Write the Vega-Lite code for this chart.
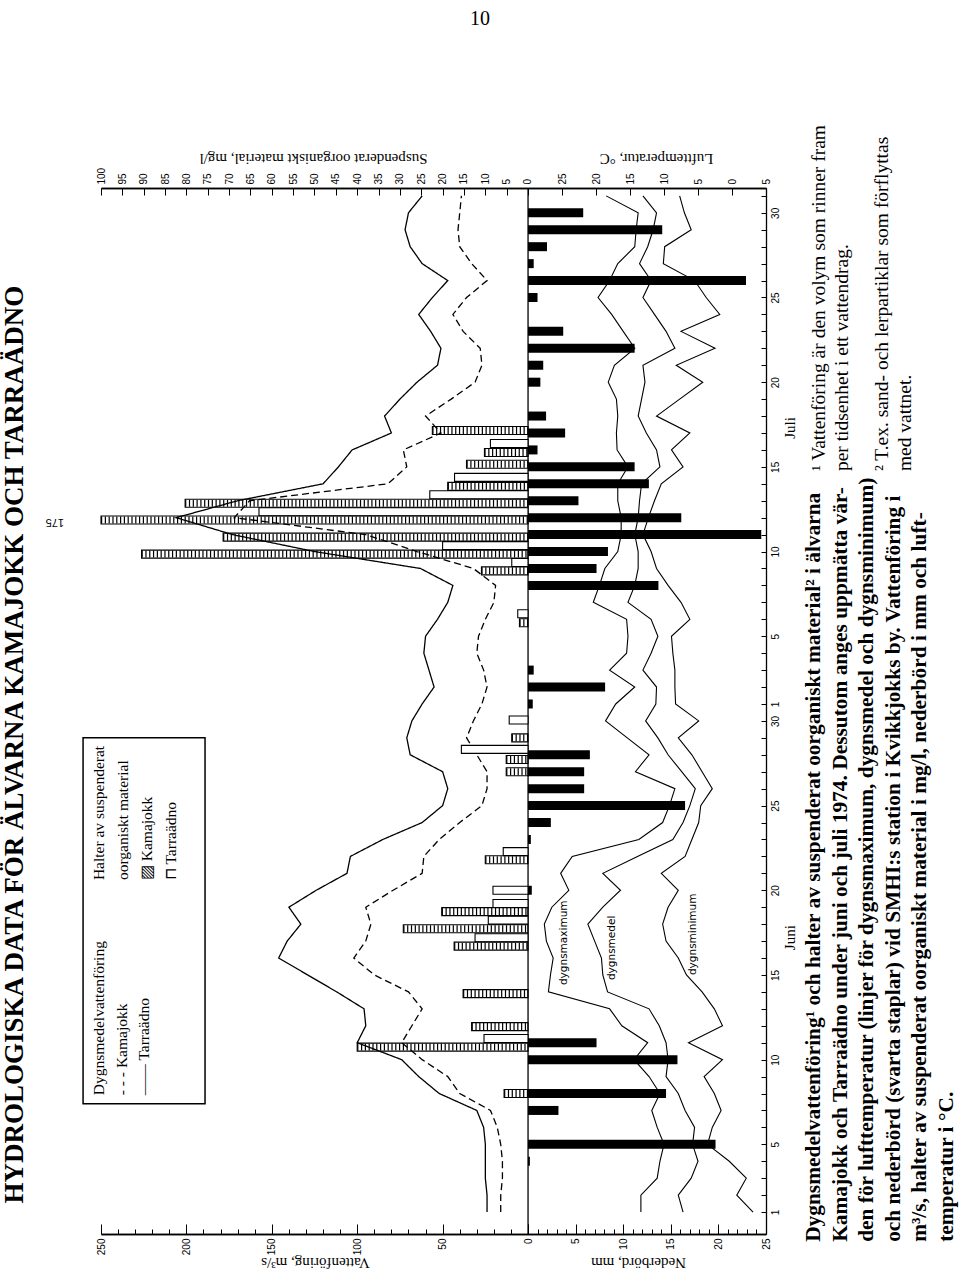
{
  "$schema": "https://vega.github.io/schema/vega-lite/v6.json",
  "width": 665,
  "height": 1046,
  "autosize": {"type": "none"},
  "padding": {"left": 101, "top": 188, "right": 194, "bottom": 36},
  "background": "white",
  "config": {
    "view": {"stroke": null},
    "axis": {"grid": false, "domainColor": "black", "domainWidth": 1.3, "tickColor": "black", "tickWidth": 1, "labelColor": "black", "labelFont": "Liberation Sans", "labelFontSize": 10, "labelOverlap": false, "labelFlush": false, "titleFont": "Liberation Serif", "titleFontSize": 15, "titleFontWeight": "normal", "titleColor": "black"}
  },
  "datasets": {
    "daily": [
      {"day":1,"kamajokk":16,"tarraadno":24,"tmax":13.4,"tmean":7.2,"tmin":-3.1},
      {"day":2,"kamajokk":16,"tarraadno":24,"tmax":13.4,"tmean":7.9,"tmin":-0.7},
      {"day":3,"kamajokk":15,"tarraadno":25,"tmax":11.0,"tmean":6.0,"tmin":-2.1},
      {"day":4,"kamajokk":15,"tarraadno":25,"tmax":10.6,"tmean":5.0,"tmin":0.4},
      {"day":5,"kamajokk":16,"tarraadno":25,"tmax":10.0,"tmean":5.8,"tmin":3.6},
      {"day":6,"kamajokk":18,"tarraadno":26,"tmax":11.0,"tmean":5.5,"tmin":2.9},
      {"day":7,"kamajokk":22,"tarraadno":30,"tmax":11.8,"tmean":6.9,"tmin":1.6},
      {"day":8,"kamajokk":40,"tarraadno":52,"tmax":10.6,"tmean":7.9,"tmin":2.6},
      {"day":9,"kamajokk":47,"tarraadno":64,"tmax":12.2,"tmean":9.7,"tmin":4.1},
      {"day":10,"kamajokk":62,"tarraadno":74,"tmax":14.4,"tmean":9.4,"tmin":1.4},
      {"day":11,"kamajokk":74,"tarraadno":100,"tmax":12.4,"tmean":9.7,"tmin":6.4},
      {"day":12,"kamajokk":68,"tarraadno":95,"tmax":16.2,"tmean":10.7,"tmin":1.4},
      {"day":13,"kamajokk":62,"tarraadno":96,"tmax":18.0,"tmean":12.2,"tmin":2.6},
      {"day":14,"kamajokk":70,"tarraadno":112,"tmax":27.0,"tmean":18.3,"tmin":4.4},
      {"day":15,"kamajokk":90,"tarraadno":129,"tmax":26.7,"tmean":19.0,"tmin":6.7},
      {"day":16,"kamajokk":102,"tarraadno":146,"tmax":26.3,"tmean":19.2,"tmin":7.9},
      {"day":17,"kamajokk":95,"tarraadno":141,"tmax":27.3,"tmean":20.2,"tmin":9.7},
      {"day":18,"kamajokk":92,"tarraadno":133,"tmax":27.6,"tmean":21.2,"tmin":10.2},
      {"day":19,"kamajokk":95,"tarraadno":140,"tmax":26.5,"tmean":19.0,"tmin":9.4},
      {"day":20,"kamajokk":79,"tarraadno":124,"tmax":24.0,"tmean":16.4,"tmin":7.9},
      {"day":21,"kamajokk":62,"tarraadno":106,"tmax":25.2,"tmean":19.0,"tmin":10.4},
      {"day":22,"kamajokk":61,"tarraadno":104,"tmax":23.5,"tmean":13.9,"tmin":6.9},
      {"day":23,"kamajokk":52,"tarraadno":85,"tmax":13.7,"tmean":8.7,"tmin":5.9},
      {"day":24,"kamajokk":40,"tarraadno":62,"tmax":10.2,"tmean":7.2,"tmin":4.9},
      {"day":25,"kamajokk":27,"tarraadno":50,"tmax":9.2,"tmean":6.2,"tmin":4.6},
      {"day":26,"kamajokk":24,"tarraadno":47,"tmax":8.4,"tmean":5.4,"tmin":2.9},
      {"day":27,"kamajokk":24,"tarraadno":50,"tmax":14.2,"tmean":7.4,"tmin":4.4},
      {"day":28,"kamajokk":30,"tarraadno":69,"tmax":12.2,"tmean":9.4,"tmin":5.9},
      {"day":29,"kamajokk":36,"tarraadno":71,"tmax":15.4,"tmean":10.9,"tmin":7.9},
      {"day":30,"kamajokk":32,"tarraadno":68,"tmax":18.6,"tmean":12.7,"tmin":4.9},
      {"day":31,"kamajokk":27,"tarraadno":62,"tmax":17.1,"tmean":11.2,"tmin":8.3},
      {"day":32,"kamajokk":24,"tarraadno":55,"tmax":14.3,"tmean":11.1,"tmin":8.4},
      {"day":33,"kamajokk":26,"tarraadno":58,"tmax":18.0,"tmean":13.1,"tmin":8.4},
      {"day":34,"kamajokk":30,"tarraadno":61,"tmax":15.5,"tmean":11.9,"tmin":8.7},
      {"day":35,"kamajokk":29,"tarraadno":60,"tmax":15.3,"tmean":10.9,"tmin":8.9},
      {"day":36,"kamajokk":25,"tarraadno":53,"tmax":15.5,"tmean":11.9,"tmin":6.2},
      {"day":37,"kamajokk":20,"tarraadno":47,"tmax":20.4,"tmean":15.3,"tmin":7.5},
      {"day":38,"kamajokk":19,"tarraadno":44,"tmax":19.5,"tmean":14.3,"tmin":9.4},
      {"day":39,"kamajokk":32,"tarraadno":63,"tmax":18.7,"tmean":13.8,"tmin":11.1},
      {"day":40,"kamajokk":65,"tarraadno":125,"tmax":16.8,"tmean":13.8,"tmin":11.9},
      {"day":41,"kamajokk":95,"tarraadno":173,"tmax":16.3,"tmean":14.3,"tmin":13.1},
      {"day":42,"kamajokk":172,"tarraadno":206,"tmax":16.3,"tmean":13.8,"tmin":12.3},
      {"day":43,"kamajokk":163,"tarraadno":170,"tmax":16.8,"tmean":13.6,"tmin":11.4},
      {"day":44,"kamajokk":82,"tarraadno":120,"tmax":16.8,"tmean":13.3,"tmin":10.4},
      {"day":45,"kamajokk":71,"tarraadno":111,"tmax":15.3,"tmean":10.6,"tmin":7.2},
      {"day":46,"kamajokk":73,"tarraadno":103,"tmax":16.9,"tmean":11.1,"tmin":8.9},
      {"day":47,"kamajokk":51,"tarraadno":80,"tmax":17.0,"tmean":12.6,"tmin":6.2},
      {"day":48,"kamajokk":60,"tarraadno":84,"tmax":16.8,"tmean":13.8,"tmin":11.1},
      {"day":49,"kamajokk":45,"tarraadno":75,"tmax":17.0,"tmean":13.3,"tmin":7.7},
      {"day":50,"kamajokk":31,"tarraadno":65,"tmax":18.2,"tmean":12.8,"tmin":4.3},
      {"day":51,"kamajokk":27,"tarraadno":53,"tmax":17.3,"tmean":13.1,"tmin":8.2},
      {"day":52,"kamajokk":28,"tarraadno":51,"tmax":14.3,"tmean":8.4,"tmin":2.5},
      {"day":53,"kamajokk":38,"tarraadno":57,"tmax":16.0,"tmean":9.7,"tmin":7.5},
      {"day":54,"kamajokk":44,"tarraadno":64,"tmax":17.7,"tmean":11.4,"tmin":1.8},
      {"day":55,"kamajokk":36,"tarraadno":56,"tmax":19.7,"tmean":13.1,"tmin":3.8},
      {"day":56,"kamajokk":24,"tarraadno":47,"tmax":18.0,"tmean":11.9,"tmin":5.5},
      {"day":57,"kamajokk":33,"tarraadno":62,"tmax":16.8,"tmean":13.6,"tmin":10.1},
      {"day":58,"kamajokk":40,"tarraadno":69,"tmax":14.3,"tmean":12.4,"tmin":9.9},
      {"day":59,"kamajokk":41,"tarraadno":72,"tmax":14.1,"tmean":11.6,"tmin":6.0},
      {"day":60,"kamajokk":40,"tarraadno":70,"tmax":13.8,"tmean":11.1,"tmin":7.0},
      {"day":61,"kamajokk":39,"tarraadno":62,"tmax":18.5,"tmean":13.1,"tmin":7.7}
    ],
    "precip": [
      {"day":4,"mm":0.2},{"day":5,"mm":19.7},{"day":7,"mm":3.2},{"day":8,"mm":14.5},{"day":10,"mm":15.7},{"day":11,"mm":7.2},
      {"day":20,"mm":0.4},{"day":23,"mm":0.3},{"day":24,"mm":2.4},{"day":25,"mm":16.5},{"day":26,"mm":5.9},{"day":27,"mm":5.9},{"day":28,"mm":6.5},
      {"day":31,"mm":0.5},{"day":32,"mm":8.1},{"day":33,"mm":0.6},{"day":38,"mm":13.7},{"day":39,"mm":7.2},{"day":40,"mm":8.4},
      {"day":41,"mm":24.5},{"day":42,"mm":16.1},{"day":43,"mm":5.3},{"day":44,"mm":12.7},{"day":45,"mm":11.2},{"day":46,"mm":1.0},
      {"day":47,"mm":3.9},{"day":48,"mm":1.9},{"day":50,"mm":1.3},{"day":51,"mm":1.6},{"day":52,"mm":11.2},{"day":53,"mm":3.7},
      {"day":55,"mm":1.0},{"day":56,"mm":22.9},{"day":57,"mm":0.6},{"day":58,"mm":2.0},{"day":59,"mm":14.1},{"day":60,"mm":5.8}
    ],
    "susp": [
      {"pos":8.0,"river":"K","mgl":5.6},{"pos":10.74,"river":"K","mgl":40},{"pos":11.95,"river":"K","mgl":13.2},
      {"pos":13.9,"river":"K","mgl":15.2},{"pos":16.7,"river":"K","mgl":17.3},{"pos":17.73,"river":"K","mgl":29.2},
      {"pos":18.74,"river":"K","mgl":20.2},{"pos":21.8,"river":"K","mgl":10},{"pos":27.0,"river":"K","mgl":5.1},
      {"pos":27.72,"river":"K","mgl":5.1},{"pos":29.0,"river":"K","mgl":3.8},{"pos":35.8,"river":"K","mgl":2.0},
      {"pos":38.86,"river":"K","mgl":10.9},{"pos":39.85,"river":"K","mgl":90.5},{"pos":40.85,"river":"K","mgl":71.4},
      {"pos":41.86,"river":"K","mgl":175},{"pos":42.85,"river":"K","mgl":80.3},{"pos":43.85,"river":"K","mgl":18.8},
      {"pos":45.15,"river":"K","mgl":14.4},{"pos":45.85,"river":"K","mgl":10.2},{"pos":47.15,"river":"K","mgl":22.4},
      {"pos":11.25,"river":"T","mgl":10.3},{"pos":17.2,"river":"T","mgl":12.4},{"pos":18.24,"river":"T","mgl":9.3},
      {"pos":19.22,"river":"T","mgl":8.2},{"pos":20.0,"river":"T","mgl":8.2},{"pos":22.28,"river":"T","mgl":5.8},
      {"pos":28.32,"river":"T","mgl":15.6},{"pos":30.05,"river":"T","mgl":4.4},{"pos":36.33,"river":"T","mgl":2.4},
      {"pos":39.35,"river":"T","mgl":3.8},{"pos":40.35,"river":"T","mgl":20},{"pos":42.35,"river":"T","mgl":63},
      {"pos":43.35,"river":"T","mgl":23},{"pos":44.38,"river":"T","mgl":17.2},{"pos":46.38,"river":"T","mgl":8.8}
    ]
  },
  "resolve": {"scale": {"x": "independent"}, "axis": {"x": "independent"}},
  "layer": [
    {
      "layer": [
        {
          "data": {"name": "daily"},
          "transform": [{"fold": ["kamajokk", "tarraadno"], "as": ["river", "flow"]}],
          "mark": {"type": "line", "color": "black", "strokeWidth": 1.3},
          "encoding": {
            "x": {"field": "flow", "type": "quantitative",
              "scale": {"domain": [-139.3, 250], "reverse": true, "nice": false, "zero": false},
              "axis": {"orient": "bottom", "tickCount": 1000, "format": "d", "values": [0,10,20,30,40,50,60,70,80,90,100,110,120,130,140,150,160,170,180,190,200,210,220,230,240,250],
                "labelExpr": "datum.value % 50 === 0 ? datum.label : ''", "labelOverlap": false,
                "tickSize": {"condition": {"test": "datum.value % 50 === 0", "value": -10}, "value": -5},
                "labelAngle": 270, "labelAlign": "right", "labelBaseline": "middle", "labelPadding": 14,
                "title": "Vattenföring, m³/s", "titleAngle": 180, "titleAlign": "center", "titleBaseline": "middle", "titleX": 214, "titleY": 28}},
            "y": {"field": "day", "type": "quantitative",
              "scale": {"domain": [0, 61.17], "nice": false, "zero": false},
              "axis": {"orient": "right", "tickCount": 1000, "format": "d", "values": [1,2,3,4,5,6,7,8,9,10,11,12,13,14,15,16,17,18,19,20,21,22,23,24,25,26,27,28,29,30,31,32,33,34,35,36,37,38,39,40,41,42,43,44,45,46,47,48,49,50,51,52,53,54,55,56,57,58,59,60,61],
                "labelExpr": "datum.value <= 30 ? (indexof([1,5,10,15,20,25,30], datum.value) >= 0 ? datum.label : '') : (indexof([31,35,40,45,50,55,60], datum.value) >= 0 ? '' + (datum.value - 30) : '')",
                "labelOverlap": false,
                "tickSize": -5, "labelAngle": 270, "labelAlign": "center", "labelBaseline": "top", "labelPadding": 9, "title": null}},
            "strokeDash": {"field": "river", "type": "nominal", "scale": {"domain": ["kamajokk", "tarraadno"], "range": [[7, 4], [1, 0]]}, "legend": null},
            "order": {"field": "day", "type": "quantitative"}
          }
        },
        {"data": {"values": [{}]}, "mark": {"type": "rule", "color": "black", "strokeWidth": 1.3}, "encoding": {"x": {"datum": 0}}},
        {"data": {"values": [{}]}, "mark": {"type": "rect", "fill": "white", "stroke": "black", "strokeWidth": 1.5},
          "encoding": {"x": {"datum": 260.5}, "x2": {"datum": 189.1}, "y": {"datum": 7.4}, "y2": {"datum": 29.0}}},
        {"data": {"values": [{}]}, "mark": {"type": "text", "text": ["Dygnsmedelvattenföring", "- - -  Kamajokk", "——  Tarraädno"], "angle": 270, "align": "left", "baseline": "top", "font": "Liberation Serif", "fontSize": 15.5, "lineHeight": 22.5, "color": "black"},
          "encoding": {"x": {"datum": 255.0}, "y": {"datum": 7.9}}},
        {"data": {"values": [{}]}, "mark": {"type": "text", "text": ["Halter av suspenderat", "oorganiskt material", "▨ Kamajokk", "⊓ Tarraädno"], "angle": 270, "align": "left", "baseline": "top", "font": "Liberation Serif", "fontSize": 15.5, "lineHeight": 24, "color": "black"},
          "encoding": {"x": {"datum": 255.0}, "y": {"datum": 20.6}}},
        {"data": {"values": [{}]}, "mark": {"type": "text", "text": "HYDROLOGISKA DATA FÖR ÄLVARNA KAMAJOKK OCH TARRAÄDNO", "angle": 270, "align": "center", "baseline": "middle", "font": "Liberation Serif", "fontWeight": "bold", "fontSize": 27, "color": "black"},
          "encoding": {"x": {"datum": 300.4}, "y": {"datum": 28.6}}},
        {"data": {"values": [{}]}, "mark": {"type": "text", "text": "10", "align": "center", "baseline": "middle", "font": "Liberation Serif", "fontSize": 20, "color": "black"},
          "encoding": {"x": {"datum": 28.1}, "y": {"datum": 71.46}}},
        {"data": {"values": [{}]}, "mark": {"type": "text", "text": "175", "angle": 180, "align": "center", "baseline": "middle", "font": "Liberation Sans", "fontSize": 11, "color": "black"},
          "encoding": {"x": {"datum": 277}, "y": {"datum": 41.75}}}
      ]
    },
    {
      "layer": [
        {
          "data": {"name": "precip"},
          "mark": {"type": "bar", "orient": "horizontal", "size": 9, "color": "black"},
          "encoding": {
            "x": {"field": "mm", "type": "quantitative",
              "scale": {"domain": [-44.85, 25], "nice": false, "zero": false},
              "axis": {"orient": "bottom", "tickCount": 1000, "format": "d", "values": [0,1,2,3,4,5,6,7,8,9,10,11,12,13,14,15,16,17,18,19,20,21,22,23,24,25],
                "labelExpr": "datum.value % 5 === 0 && datum.value > 0 ? datum.label : ''", "labelOverlap": false,
                "tickSize": {"condition": {"test": "datum.value % 5 === 0", "value": -10}, "value": -5},
                "labelAngle": 270, "labelAlign": "right", "labelBaseline": "middle", "labelPadding": 14,
                "title": "Nederbörd, mm", "titleAngle": 180, "titleAlign": "center", "titleBaseline": "middle", "titleX": 537, "titleY": 28}},
            "x2": {"datum": 0},
            "y": {"field": "day", "type": "quantitative"}
          }
        },
        {"data": {"values": [{}]}, "mark": {"type": "text", "text": [
            "Dygnsmedelvattenföring¹ och halter av suspenderat oorganiskt material² i älvarna",
            "Kamajokk och Tarraädno under juni och juli 1974.  Dessutom anges uppmätta vär-",
            "den för lufttemperatur (linjer för dygnsmaximum, dygnsmedel och dygnsminimum)",
            "och nederbörd (svarta staplar) vid SMHI:s station i Kvikkjokks by. Vattenföring i",
            "m³/s, halter av suspenderat oorganiskt material i mg/l, nederbörd i mm och luft-",
            "temperatur i °C."],
            "angle": 270, "align": "left", "baseline": "top", "font": "Liberation Serif", "fontWeight": "bold", "fontSize": 21.4, "lineHeight": 26.5, "color": "black"},
          "encoding": {"x": {"datum": 28.9}, "y": {"datum": -0.76}}},
        {"data": {"values": [{}]}, "mark": {"type": "text", "text": ["¹ Vattenföring är den volym som rinner fram", "\u00a0\u00a0\u00a0per tidsenhet i ett vattendrag."],
            "angle": 270, "align": "left", "baseline": "top", "font": "Liberation Serif", "fontSize": 19.5, "lineHeight": 23, "color": "black"},
          "encoding": {"x": {"datum": 29.6}, "y": {"datum": 44.75}}},
        {"data": {"values": [{}]}, "mark": {"type": "text", "text": ["² T.ex. sand- och lerpartiklar som förflyttas", "\u00a0\u00a0\u00a0med vattnet."],
            "angle": 270, "align": "left", "baseline": "top", "font": "Liberation Serif", "fontSize": 19.5, "lineHeight": 23, "color": "black"},
          "encoding": {"x": {"datum": 36.2}, "y": {"datum": 44.75}}},
        {"data": {"values": [{}]}, "mark": {"type": "text", "text": "Juni", "angle": 270, "align": "center", "baseline": "middle", "font": "Liberation Serif", "fontSize": 15, "color": "black"},
          "encoding": {"x": {"datum": 27.5}, "y": {"datum": 17.2}}},
        {"data": {"values": [{}]}, "mark": {"type": "text", "text": "Juli", "angle": 270, "align": "center", "baseline": "middle", "font": "Liberation Serif", "fontSize": 15, "color": "black"},
          "encoding": {"x": {"datum": 27.5}, "y": {"datum": 47.3}}}
      ]
    },
    {
      "layer": [
        {
          "data": {"name": "susp"},
          "transform": [{"filter": "datum.river === 'T'"}],
          "mark": {"type": "bar", "orient": "horizontal", "size": 8, "fill": "white", "stroke": "black", "strokeWidth": 1.1},
          "encoding": {
            "x": {"field": "mgl", "type": "quantitative",
              "scale": {"domain": [-55.74, 100], "reverse": true, "nice": false, "zero": false, "clamp": true},
              "axis": {"orient": "top", "tickCount": 1000, "format": "d", "values": [0,5,10,15,20,25,30,35,40,45,50,55,60,65,70,75,80,85,90,95,100], "labelOverlap": false,
                "tickSize": -7, "labelAngle": 270, "labelAlign": "left", "labelBaseline": "middle", "labelPadding": 11,
                "title": "Suspenderat oorganiskt material, mg/l", "titleAngle": 180, "titleAlign": "center", "titleBaseline": "middle", "titleX": 212, "titleY": -30}},
            "x2": {"datum": 0},
            "y": {"field": "pos", "type": "quantitative"}
          }
        },
        {
          "data": {"name": "susp"},
          "transform": [{"filter": "datum.river === 'K'"}],
          "mark": {"type": "rule", "strokeWidth": 7, "strokeDash": [1.2, 2.6], "color": "black"},
          "encoding": {"x": {"field": "mgl", "type": "quantitative"}, "x2": {"datum": 0}, "y": {"field": "pos", "type": "quantitative"}}
        },
        {
          "data": {"name": "susp"},
          "transform": [{"filter": "datum.river === 'K'"}],
          "mark": {"type": "bar", "orient": "horizontal", "size": 8, "filled": false, "color": "black", "strokeWidth": 1.1},
          "encoding": {"x": {"field": "mgl", "type": "quantitative"}, "x2": {"datum": 0}, "y": {"field": "pos", "type": "quantitative"}}
        }
      ]
    },
    {
      "layer": [
        {
          "data": {"name": "daily"},
          "transform": [{"fold": ["tmax", "tmean", "tmin"], "as": ["stat", "temp"]}],
          "mark": {"type": "line", "color": "black", "strokeWidth": 1.1},
          "encoding": {
            "x": {"field": "temp", "type": "quantitative",
              "scale": {"domain": [-5, 92.8], "reverse": true, "nice": false, "zero": false},
              "axis": {"orient": "top", "tickCount": 1000, "format": "d", "values": [-5,0,5,10,15,20,25], "labelOverlap": false,
                "labelExpr": "'' + abs(datum.value)",
                "tickSize": -7, "labelAngle": 270, "labelAlign": "left", "labelBaseline": "middle", "labelPadding": 11,
                "title": "Lufttemperatur, °C", "titleAngle": 180, "titleAlign": "center", "titleBaseline": "middle", "titleX": 555, "titleY": -30}},
            "y": {"field": "day", "type": "quantitative"},
            "detail": {"field": "stat", "type": "nominal"},
            "order": {"field": "day", "type": "quantitative"}
          }
        },
        {"data": {"values": [{}]}, "mark": {"type": "text", "text": "dygnsmaximum", "angle": 270, "align": "center", "baseline": "middle", "font": "DejaVu Sans", "fontSize": 10.5, "color": "black"},
          "encoding": {"x": {"datum": 24.7}, "y": {"datum": 16.9}}},
        {"data": {"values": [{}]}, "mark": {"type": "text", "text": "dygnsmedel", "angle": 270, "align": "center", "baseline": "middle", "font": "DejaVu Sans", "fontSize": 10.5, "color": "black"},
          "encoding": {"x": {"datum": 17.7}, "y": {"datum": 16.6}}},
        {"data": {"values": [{}]}, "mark": {"type": "text", "text": "dygnsminimum", "angle": 270, "align": "center", "baseline": "middle", "font": "DejaVu Sans", "fontSize": 10.5, "color": "black"},
          "encoding": {"x": {"datum": 5.7}, "y": {"datum": 17.4}}}
      ]
    }
  ]
}
